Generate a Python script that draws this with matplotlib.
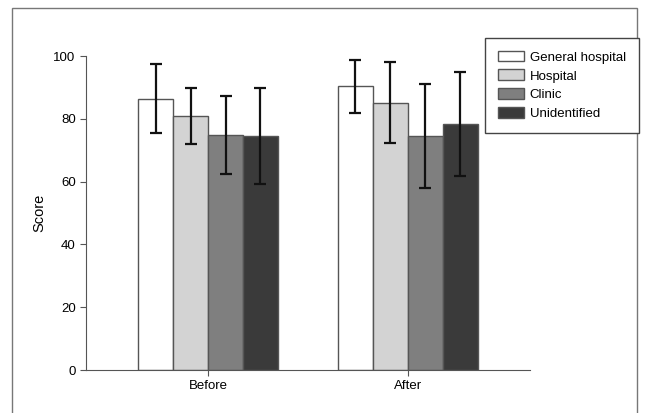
import matplotlib
matplotlib.use("Agg")
import matplotlib.pyplot as plt
import matplotlib.patches as patches
import numpy as np

plt.rcParams['font.family'] = ['Liberation Sans', 'DejaVu Sans']

groups = ["Before", "After"]
series = ["General hospital", "Hospital", "Clinic", "Unidentified"]
colors = ["#ffffff", "#d3d3d3", "#7f7f7f", "#3a3a3a"]

# mean, upper and lower end of error bar, per series (Before, After)
means = [[86.4, 90.4], [81.0, 85.1], [74.9, 74.7], [74.5, 78.3]]
err_hi = [[97.5, 98.9], [90.0, 98.0], [87.3, 91.2], [89.9, 94.9]]
err_lo = [[75.4, 81.8], [71.9, 72.4], [62.6, 58.1], [59.2, 61.8]]

fig = plt.figure(figsize=(6.47, 4.13), dpi=100)
ax = fig.add_axes([0.133, 0.104, 0.686, 0.760])

x = np.arange(len(groups))
w = 0.175
for i, name in enumerate(series):
    pos = x + (i - 1.5) * w
    m = np.array(means[i])
    yerr = [m - np.array(err_lo[i]), np.array(err_hi[i]) - m]
    ax.bar(pos, m, w, color=colors[i], edgecolor="#555555", linewidth=1.0, label=name)
    ax.errorbar(pos, m, yerr=yerr, fmt="none", ecolor="#111111", elinewidth=1.6,
                capsize=4.5, capthick=1.6)

ax.set_xlim(-0.61, 1.61)
ax.set_ylim(0, 100)
ax.set_yticks(range(0, 101, 20))
ax.set_xticks(x)
ax.set_xticklabels(groups)
ax.set_ylabel("Score", fontsize=10.5, labelpad=5)
for s in ["top", "right"]:
    ax.spines[s].set_visible(False)
for s in ["left", "bottom"]:
    ax.spines[s].set_color("#555555")
ax.tick_params(axis="both", labelsize=9.5, color="#555555", length=4, direction="out")

fig.legend(loc="upper left", bbox_to_anchor=(485 / 647, 1 - 38 / 413), fontsize=9.5,
           frameon=True, fancybox=False, edgecolor="#444444", framealpha=1,
           handlelength=2.0, handleheight=0.9, labelspacing=0.45, borderpad=0.95,
           handletextpad=0.45, borderaxespad=0)

fig.patches.append(patches.Rectangle((12 / 647, -0.05), 625 / 647, 1.05 - 8 / 413,
                                     transform=fig.transFigure, fill=False,
                                     edgecolor="#777777", linewidth=1.0))

fig.savefig("out.png", dpi=100)
